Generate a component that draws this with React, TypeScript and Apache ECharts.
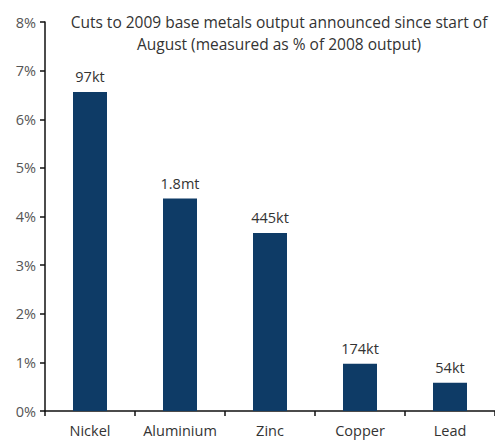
import React, { useEffect, useRef } from "react";
import * as echarts from "echarts";

const categories = ["Nickel", "Aluminium", "Zinc", "Copper", "Lead"];
const values = [6.56, 4.37, 3.66, 0.97, 0.58];
const barLabels = ["97kt", "1.8mt", "445kt", "174kt", "54kt"];
const titleLines = [
  "Cuts to 2009 base metals output announced since start of",
  "August (measured as % of 2008 output)",
];

export default function App() {
  const ref = useRef<HTMLDivElement>(null);
  useEffect(() => {
    if (!ref.current) return;
    const chart = echarts.init(ref.current, null, { renderer: "svg" });
    const font = "'Open Sans', 'DejaVu Sans', sans-serif";
    chart.setOption({
      animation: false,
      backgroundColor: "#ffffff",
      title: {
        text: titleLines.join("\n"),
        left: 279,
        top: 11,
        padding: 0,
        textAlign: "center",
        textStyle: {
          fontFamily: font,
          fontSize: 15.5,
          fontWeight: "normal",
          color: "#333333",
          lineHeight: 22,
        },
      },
      grid: { left: 45, right: -11, top: 22, bottom: 31, containLabel: false },
      xAxis: {
        type: "category",
        data: categories,
        axisLine: { lineStyle: { color: "#111111", width: 1.5 } },
        axisTick: { show: true, alignWithLabel: false, length: 5, lineStyle: { color: "#111111", width: 1.5 } },
        axisLabel: {
          interval: 0,
          hideOverlap: false,
          fontFamily: font,
          fontSize: 14.5,
          color: "#333333",
          margin: 12,
        },
      },
      yAxis: {
        type: "value",
        min: 0,
        max: 8,
        interval: 1,
        axisLine: { show: true, lineStyle: { color: "#111111", width: 1.5 } },
        axisTick: { show: true, length: 5, lineStyle: { color: "#111111", width: 1.5 } },
        splitLine: { show: false },
        axisLabel: {
          fontFamily: font,
          fontSize: 14.5,
          color: "#555555",
          margin: 9,
          formatter: (v: number) => `${v}%`,
        },
      },
      series: [
        {
          type: "bar",
          data: values,
          barWidth: 34,
          itemStyle: { color: "#0e3b66" },
          label: {
            show: true,
            position: "top",
            distance: 8,
            fontFamily: font,
            fontSize: 14.5,
            color: "#333333",
            formatter: (p: any) => barLabels[p.dataIndex],
          },
        },
      ],
    });
    return () => chart.dispose();
  }, []);
  return <div ref={ref} style={{ width: 495, height: 442, position: "absolute", left: 0, top: 0 }} />;
}
